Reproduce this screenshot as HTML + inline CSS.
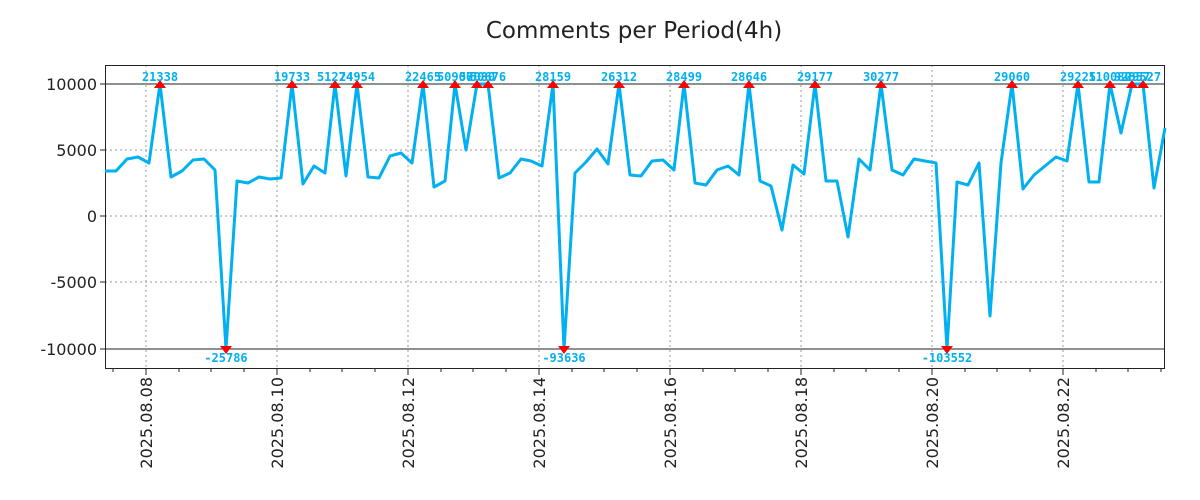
<!DOCTYPE html>
<html><head><meta charset="utf-8"><style>
html,body{margin:0;padding:0;background:#fff;}
svg{display:block;}
.t{font-family:"DejaVu Sans","Liberation Sans",sans-serif;}
.a{font-family:"DejaVu Sans Mono","Liberation Mono",monospace;font-weight:bold;font-size:12px;fill:#00b0f0;text-anchor:middle;}
</style></head><body>
<svg width="1200" height="500" xmlns="http://www.w3.org/2000/svg">
<text x="634" y="38" class="t" font-size="23" text-anchor="middle" fill="#222">Comments per Period(4h)</text>
<g stroke="#999" stroke-width="1" stroke-dasharray="2,3">
<line x1="105" x2="1165" y1="150" y2="150"/><line x1="105" x2="1165" y1="216" y2="216"/><line x1="105" x2="1165" y1="282" y2="282"/>
<line x1="146" x2="146" y1="65" y2="369"/><line x1="277" x2="277" y1="65" y2="369"/><line x1="408" x2="408" y1="65" y2="369"/><line x1="539" x2="539" y1="65" y2="369"/><line x1="670" x2="670" y1="65" y2="369"/><line x1="801" x2="801" y1="65" y2="369"/><line x1="932" x2="932" y1="65" y2="369"/><line x1="1063" x2="1063" y1="65" y2="369"/>
</g>
<g stroke="#222" stroke-width="1">
<line x1="105" x2="1165" y1="84" y2="84"/><line x1="105" x2="1165" y1="349" y2="349"/>
<rect x="105.5" y="65.5" width="1059" height="303" fill="none"/>
<line x1="100" x2="105" y1="84" y2="84"/><line x1="100" x2="105" y1="150" y2="150"/><line x1="100" x2="105" y1="216" y2="216"/><line x1="100" x2="105" y1="282" y2="282"/><line x1="100" x2="105" y1="349" y2="349"/>
<line x1="146" x2="146" y1="369" y2="375"/><line x1="277" x2="277" y1="369" y2="375"/><line x1="408" x2="408" y1="369" y2="375"/><line x1="539" x2="539" y1="369" y2="375"/><line x1="670" x2="670" y1="369" y2="375"/><line x1="801" x2="801" y1="369" y2="375"/><line x1="932" x2="932" y1="369" y2="375"/><line x1="1063" x2="1063" y1="369" y2="375"/>
<line x1="113" x2="113" y1="369" y2="372"/><line x1="179" x2="179" y1="369" y2="372"/><line x1="211" x2="211" y1="369" y2="372"/><line x1="244" x2="244" y1="369" y2="372"/><line x1="310" x2="310" y1="369" y2="372"/><line x1="342" x2="342" y1="369" y2="372"/><line x1="375" x2="375" y1="369" y2="372"/><line x1="441" x2="441" y1="369" y2="372"/><line x1="473" x2="473" y1="369" y2="372"/><line x1="506" x2="506" y1="369" y2="372"/><line x1="572" x2="572" y1="369" y2="372"/><line x1="604" x2="604" y1="369" y2="372"/><line x1="637" x2="637" y1="369" y2="372"/><line x1="703" x2="703" y1="369" y2="372"/><line x1="735" x2="735" y1="369" y2="372"/><line x1="768" x2="768" y1="369" y2="372"/><line x1="834" x2="834" y1="369" y2="372"/><line x1="866" x2="866" y1="369" y2="372"/><line x1="899" x2="899" y1="369" y2="372"/><line x1="965" x2="965" y1="369" y2="372"/><line x1="997" x2="997" y1="369" y2="372"/><line x1="1030" x2="1030" y1="369" y2="372"/><line x1="1096" x2="1096" y1="369" y2="372"/><line x1="1128" x2="1128" y1="369" y2="372"/><line x1="1161" x2="1161" y1="369" y2="372"/>
</g>
<g class="t" font-size="16" fill="#222" text-anchor="end">
<text x="97" y="90">10000</text><text x="97" y="156">5000</text><text x="97" y="222">0</text><text x="97" y="288">-5000</text><text x="97" y="355">-10000</text>
</g>
<g class="t" font-size="16" fill="#222" text-anchor="end">
<text transform="translate(152,377) rotate(-90)">2025.08.08</text>
<text transform="translate(283,377) rotate(-90)">2025.08.10</text>
<text transform="translate(414,377) rotate(-90)">2025.08.12</text>
<text transform="translate(545,377) rotate(-90)">2025.08.14</text>
<text transform="translate(676,377) rotate(-90)">2025.08.16</text>
<text transform="translate(807,377) rotate(-90)">2025.08.18</text>
<text transform="translate(938,377) rotate(-90)">2025.08.20</text>
<text transform="translate(1069,377) rotate(-90)">2025.08.22</text>
</g>
<polyline fill="none" stroke="#00b0f0" stroke-width="3" stroke-linejoin="round" points="105,171 116,171 127,159 138,157 149,163 160,84 171,177 182,171 193,160 204,159 215,170 226,349 237,181 248,183 259,177 270,179 281,178 292,84 303,184 314,166 325,173 335,84 346,176 357,84 368,177 379,178 390,156 401,153 412,163 423,84 434,187 445,181 455,84 466,150 477,84 488,84 499,178 510,173 521,159 531,161 542,166 553,84 564,349 575,173 586,162 597,149 608,164 619,84 630,175 641,176 652,161 663,160 674,170 684,84 695,183 706,185 717,170 728,166 739,175 749,84 760,181 771,186 782,230 793,165 804,174 815,84 826,181 837,181 848,237 859,159 870,170 881,84 892,170 903,175 914,159 925,161 936,163 947,349 957,182 968,185 979,163 990,316 1001,163 1012,84 1023,189 1034,175 1045,166 1056,157 1067,161 1078,84 1089,182 1099,182 1110,84 1121,133 1132,84 1143,84 1154,188 1165,128"/>
<g fill="#ff0000">
<path d="M154,88 L160,80 L166,88 Z"/><path d="M286,88 L292,80 L298,88 Z"/><path d="M329,88 L335,80 L341,88 Z"/><path d="M351,88 L357,80 L363,88 Z"/><path d="M417,88 L423,80 L429,88 Z"/><path d="M449,88 L455,80 L461,88 Z"/><path d="M471,88 L477,80 L483,88 Z"/><path d="M482,88 L488,80 L494,88 Z"/><path d="M547,88 L553,80 L559,88 Z"/><path d="M613,88 L619,80 L625,88 Z"/><path d="M678,88 L684,80 L690,88 Z"/><path d="M743,88 L749,80 L755,88 Z"/><path d="M809,88 L815,80 L821,88 Z"/><path d="M875,88 L881,80 L887,88 Z"/><path d="M1006,88 L1012,80 L1018,88 Z"/><path d="M1072,88 L1078,80 L1084,88 Z"/><path d="M1104,88 L1110,80 L1116,88 Z"/><path d="M1126,88 L1132,80 L1138,88 Z"/><path d="M1137,88 L1143,80 L1149,88 Z"/>
<path d="M220,346 L226,354 L232,346 Z"/><path d="M558,346 L564,354 L570,346 Z"/><path d="M941,346 L947,354 L953,346 Z"/>
</g>
<g class="a">
<text x="160" y="81">21338</text><text x="292" y="81">19733</text><text x="335" y="81">51274</text><text x="357" y="81">24954</text><text x="423" y="81">22465</text><text x="455" y="81">50906</text><text x="477" y="81">57080</text><text x="488" y="81">50676</text><text x="553" y="81">28159</text><text x="619" y="81">26312</text><text x="684" y="81">28499</text><text x="749" y="81">28646</text><text x="815" y="81">29177</text><text x="881" y="81">30277</text><text x="1012" y="81">29060</text><text x="1078" y="81">29225</text><text x="1110" y="81">110080</text><text x="1132" y="81">92357</text><text x="1143" y="81">29527</text>
<text x="226" y="362">-25786</text><text x="564" y="362">-93636</text><text x="947" y="362">-103552</text>
</g>
</svg>
</body></html>
